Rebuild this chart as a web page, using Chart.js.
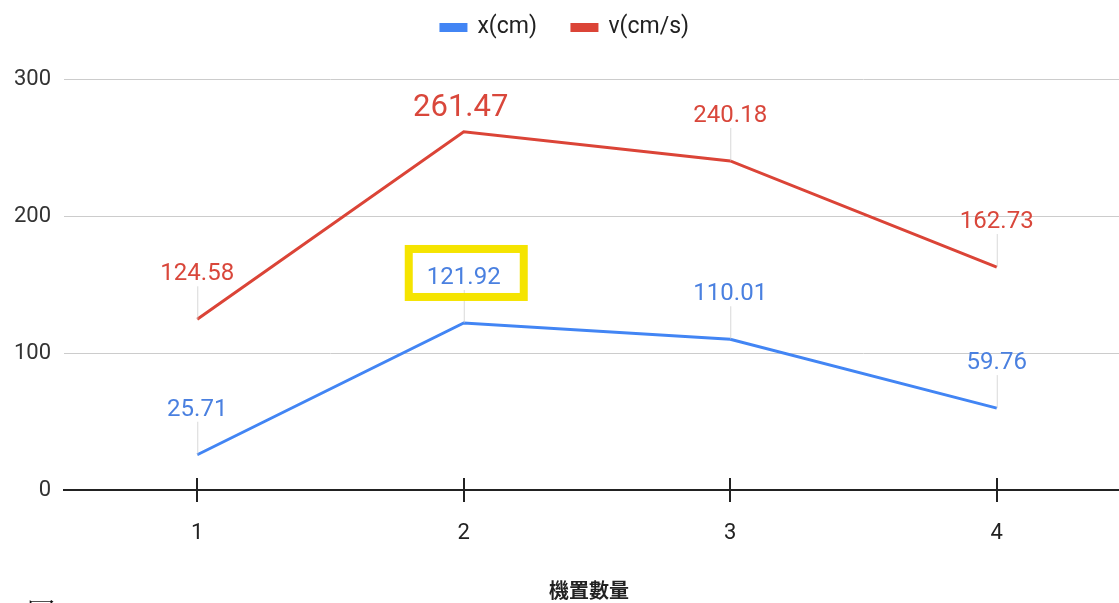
<!DOCTYPE html>
<html>
<head>
<meta charset="utf-8">
<script src="https://cdn.jsdelivr.net/npm/chart.js@4.4.1/dist/chart.umd.min.js"></script>
<style>
  html, body { margin: 0; padding: 0; background: #fff; overflow: hidden; width: 1119px; height: 603px; }
  #wrap { position: absolute; left: 0; top: 0; width: 1130px; height: 603px; }
  #xtitle { position: absolute; left: 489px; width: 200px; top: 575px; text-align: center;
            font: bold 20px "Noto Sans CJK TC", sans-serif; color: #222; }
  #caption { position: absolute; left: 27px; top: 592px; font: 28px "Noto Serif CJK TC", "Noto Sans CJK TC", serif; color: #111; white-space: nowrap; }
</style>
</head>
<body>
<div id="wrap"><canvas id="c" width="1130" height="603"></canvas></div>
<div id="xtitle">機置數量</div>
<div id="caption">圖 1</div>
<script>
// categories (number of devices) and the two measured series
const categories = ['1', '2', '3', '4'];
const xValues = [25.71, 121.92, 110.01, 59.76];
const vValues = [124.58, 261.47, 240.18, 162.73];
const yTicks = [0, 100, 200, 300];

const BLUE = '#4285F4';
const RED = '#DB4437';

// value labels with a thin leader line down to each point
const valueLabels = {
  id: 'valueLabels',
  afterDatasetsDraw(chart) {
    const ctx = chart.ctx;
    chart.data.datasets.forEach((ds, di) => {
      const meta = chart.getDatasetMeta(di);
      meta.data.forEach((pt, i) => {
        const v = ds.data[i];
        const big = ds.bigIndex === i;
        const lift = big ? 24 : 45;
        const size = big ? 31 : 24;
        const ly = pt.y - lift;
        ctx.save();
        if (!big) {
          ctx.strokeStyle = 'rgba(200,200,200,0.7)';
          ctx.lineWidth = 1;
          ctx.beginPath();
          ctx.moveTo(pt.x + 0.5, ly + size * 0.5);
          ctx.lineTo(pt.x + 0.5, pt.y);
          ctx.stroke();
        }
        ctx.font = size + 'px Roboto';
        ctx.fillStyle = ds.labelColor;
        ctx.textAlign = 'center';
        ctx.textBaseline = 'middle';
        ctx.fillText(v.toFixed(2), big ? pt.x - 3 : pt.x, ly);
        if (ds.boxIndex === i) {
          ctx.strokeStyle = '#F5E400';
          ctx.lineWidth = 8;
          ctx.strokeRect(pt.x - 55, ly - 29, 115, 48);
        }
        ctx.restore();
      });
    });
  }
};

// tick marks crossing the category axis
const crossTicks = {
  id: 'crossTicks',
  afterDraw(chart) {
    const ctx = chart.ctx;
    const xs = chart.scales.x;
    const y0 = chart.scales.y.getPixelForValue(0);
    ctx.save();
    ctx.strokeStyle = '#222';
    ctx.lineWidth = 2;
    categories.forEach((c, i) => {
      const px = Math.round(xs.getPixelForValue(i));
      ctx.beginPath();
      ctx.moveTo(px, y0 - 12);
      ctx.lineTo(px, y0 + 12);
      ctx.stroke();
    });
    ctx.restore();
  }
};

// give the legend a fixed block height so the plot starts lower
const legendHeight = {
  id: 'legendHeight',
  beforeInit(chart) {
    const lg = chart.legend;
    if (!lg) return;
    const fit = lg.fit.bind(lg);
    lg.fit = function () { fit(); this.height = 98; };
  }
};

new Chart(document.getElementById('c'), {
  type: 'line',
  data: {
    labels: categories,
    datasets: [
      { label: 'x(cm)', data: xValues, borderColor: BLUE, backgroundColor: BLUE,
        labelColor: '#4A80E0', boxIndex: 1, borderWidth: 3, pointRadius: 0, tension: 0 },
      { label: 'v(cm/s)', data: vValues, borderColor: RED, backgroundColor: RED,
        labelColor: '#D9473B', bigIndex: 1, borderWidth: 3, pointRadius: 0, tension: 0 }
    ]
  },
  options: {
    responsive: false,
    animation: false,
    layout: { padding: { top: -19, right: 0, left: 0, bottom: 0 } },
    plugins: {
      legend: {
        position: 'top',
        labels: {
          font: { family: 'Roboto', size: 23 },
          color: '#222',
          boxWidth: 25,
          boxHeight: 6,
          padding: 35
        }
      },
      tooltip: { enabled: false }
    },
    scales: {
      x: {
        offset: true,
        grid: { display: false },
        border: { display: true, color: '#222', width: 2 },
        ticks: { font: { family: 'Roboto', size: 22 }, color: '#222', padding: 22 },
        afterFit(s) { s.height = 113; }
      },
      y: {
        min: 0, max: 300,
        afterBuildTicks(s) { s.ticks = yTicks.map(v => ({ value: v })); },
        grid: {
          color: ctx => ctx.tick && ctx.tick.value === 0 ? '#222' : '#CCCCCC',
          lineWidth: ctx => ctx.tick && ctx.tick.value === 0 ? 2 : 1,
          drawTicks: false
        },
        border: { display: false },
        ticks: { font: { family: 'Roboto', size: 22 }, color: '#333', padding: 13 },
        afterFit(s) { s.width = 64; }
      }
    }
  },
  plugins: [valueLabels, crossTicks, legendHeight]
});
</script>
</body>
</html>
